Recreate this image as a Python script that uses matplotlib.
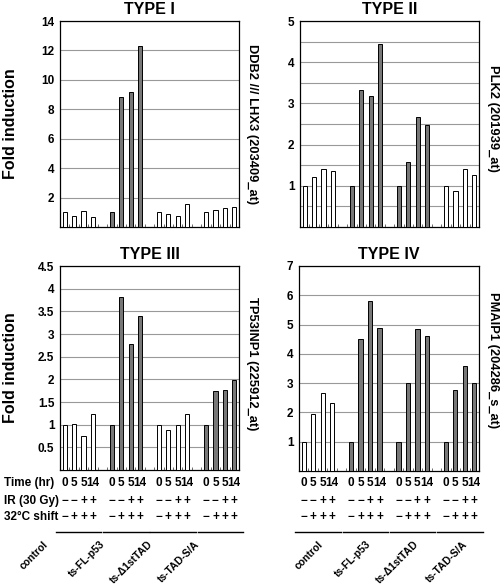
import matplotlib
matplotlib.use("Agg")
import matplotlib.pyplot as plt
from matplotlib.transforms import blended_transform_factory
from matplotlib.lines import Line2D
import numpy as np

plt.rcParams['font.family'] = ['Liberation Sans', 'DejaVu Sans']
plt.rcParams['font.weight'] = 'bold'

groups = ["control", "ts-FL-p53", "ts-\u03941stTAD", "ts-TAD-S/A"]
time_labels = ["0", "5", "5", "14"]
ir_labels = ["\u2212", "\u2212", "+", "+"]
shift_labels = ["\u2212", "+", "+", "+"]

titles = ["TYPE I", "TYPE II", "TYPE III", "TYPE IV"]
genes = ["DDB2 /// LHX3 (203409_at)", "PLK2 (201939_at)",
         "TP53INP1 (225912_at)", "PMAIP1 (204286_s_at)"]

type1 = [[1.00, 0.75, 1.09, 0.70], [1.00, 8.84, 9.20, 12.27],
         [1.00, 0.86, 0.75, 1.55], [1.00, 1.16, 1.32, 1.36]]
type2 = [[1.00, 1.22, 1.40, 1.35], [1.00, 3.33, 3.19, 4.43],
         [1.00, 1.57, 2.67, 2.47], [1.00, 0.88, 1.40, 1.27]]
type3 = [[1.00, 1.02, 0.75, 1.24], [1.00, 3.82, 2.78, 3.39],
         [1.00, 0.89, 1.00, 1.23], [1.00, 1.75, 1.76, 1.99]]
type4 = [[1.00, 1.93, 2.65, 2.33], [1.00, 4.52, 5.82, 4.87],
         [1.00, 3.02, 4.85, 4.60], [1.00, 2.75, 3.60, 3.00]]
panel_data = [type1, type2, type3, type4]

# group fill: True = grey
fills = [[False, True, False, False], [False, True, True, False],
         [False, True, False, True], [False, True, True, True]]

ylims = [14, 5, 4.5, 7]
yticks = [np.arange(2, 15, 2), np.arange(1, 6, 1),
          np.arange(0.5, 4.51, 0.5), np.arange(1, 8, 1)]
ygrid_minor = [None, np.arange(0.5, 5, 0.5), None, None]

W, H = 500, 586
fig = plt.figure(figsize=(W / 100, H / 100), dpi=100)

# axes boxes in pixel coordinates: left, top, right, bottom
boxes = [(60, 21, 239, 227), (300, 21, 479, 227),
         (60, 266, 239, 470), (299, 266, 479, 471)]
gene_x = [252, 493, 252, 493]
gene_y = [124, 118, 364, 360]

GREY = "#777777"
axes = []
for k in range(4):
    l, t, r, b = boxes[k]
    ax = fig.add_axes([l / W, 1 - b / H, (r - l) / W, (b - t) / H])
    axes.append(ax)
    for g in range(4):
        xs = [g * 5 + j for j in range(4)]
        ax.bar(xs, panel_data[k][g], width=0.45,
               color=GREY if fills[k][g] else "white",
               edgecolor="black", linewidth=0.7, zorder=3)
    ax.set_xlim(-0.5, 18.5)
    ax.set_ylim(0, ylims[k])
    ax.set_yticks(yticks[k])
    ax.set_yticklabels(["{:g}".format(v) for v in yticks[k]],
                       fontsize=8.5, fontweight='bold')
    if ygrid_minor[k] is not None:
        ax.set_yticks(ygrid_minor[k], minor=True)
        ax.grid(True, axis='y', which='minor', color='#999999', linewidth=0.8, zorder=0)
    ax.grid(True, axis='y', which='major', color='#999999', linewidth=0.8, zorder=0)
    ax.tick_params(axis='y', which='both', length=0, pad=4)
    ax.set_xticks(np.arange(-0.5, 18.6, 1.0))
    ax.set_xticklabels([])
    ax.tick_params(axis='x', direction='in', length=2.5, width=0.6, color='#555555')
    for s in ax.spines.values():
        s.set_linewidth(0.9)
        s.set_color('black')
    ax.set_title(titles[k], fontsize=11.5, fontweight='bold', pad=5)
    fig.text(gene_x[k] / W, 1 - gene_y[k] / H, genes[k], rotation=-90,
             ha='center', va='center', fontsize=9.3, fontweight='bold')

for yc in [124, 368]:
    fig.text(11 / W, 1 - yc / H, "Fold induction", rotation=90, ha='center',
             va='center', fontsize=11.5, fontweight='bold')

# bottom annotation rows
row_y = {"time": 483, "ir": 501, "shift": 517, "line": 532, "grp": 539}
fig.text(4 / W, 1 - row_y["time"] / H, "Time (hr)", ha='left', va='center',
         fontsize=8.5, fontweight='bold')
fig.text(4 / W, 1 - row_y["ir"] / H, "IR (30 Gy)", ha='left', va='center',
         fontsize=8.5, fontweight='bold')
fig.text(4 / W, 1 - row_y["shift"] / H, "32\u00b0C shift", ha='left', va='center',
         fontsize=8.5, fontweight='bold')

label_offsets = {2: [-2.3, -1.25, -1.25, -1.2], 3: [1.5, 1.5, 1.6, 1.7]}
for k in [2, 3]:
    ax = axes[k]
    tr = blended_transform_factory(ax.transData, fig.transFigure)
    for g in range(4):
        for j in range(4):
            x = g * 5 + j
            fig.text(x, 1 - row_y["time"] / H, time_labels[j], transform=tr,
                     ha='center', va='center', fontsize=8.5, fontweight='bold')
            fig.text(x, 1 - row_y["ir"] / H, ir_labels[j], transform=tr,
                     ha='center', va='center', fontsize=8.5, fontweight='bold')
            fig.text(x, 1 - row_y["shift"] / H, shift_labels[j], transform=tr,
                     ha='center', va='center', fontsize=8.5, fontweight='bold')
        x0, x1 = g * 5 - 0.9, g * 5 + 3.9
        ln = Line2D([x0, x1], [1 - row_y["line"] / H] * 2, transform=tr,
                    color='black', linewidth=1.0)
        fig.add_artist(ln)
        fig.text(g * 5 + label_offsets[k][g], 1 - row_y["grp"] / H, groups[g],
                 transform=tr, rotation=45, rotation_mode='anchor',
                 ha='right', va='top', fontsize=7.5, fontweight='bold')

fig.savefig("out.png", dpi=100)
